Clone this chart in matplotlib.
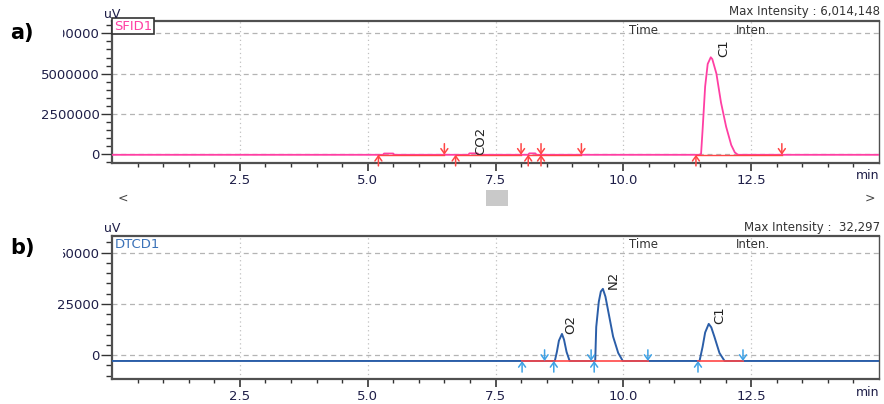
import matplotlib
matplotlib.use("Agg")
import matplotlib.pyplot as plt
from matplotlib.patches import Rectangle
from matplotlib.transforms import Bbox, TransformedBbox

# FID trace (panel a): retention time in min, signal in uV
time_a = [0.0, 5.30, 5.32, 5.50, 5.52, 6.97, 6.99, 7.15, 7.17, 8.14, 8.16, 8.28, 8.30,
          11.48, 11.52, 11.55, 11.60, 11.65, 11.71, 11.74, 11.82, 11.91, 12.01, 12.11,
          12.18, 12.24, 15.0]
signal_a = [-50000, -50000, 30000, 30000, -50000, -50000, 40000, 40000, -50000, -50000,
            40000, 40000, -50000, -50000, 0, 1500000, 4200000, 5600000, 6014148, 5900000,
            5000000, 3200000, 1700000, 560000, 100000, -50000, -50000]

# TCD trace (panel b)
time_b = [0.0, 8.66, 8.70, 8.74, 8.80, 8.84, 8.89, 8.95, 9.45, 9.47, 9.52, 9.56, 9.60,
          9.65, 9.70, 9.80, 9.90, 9.99, 11.49, 11.55, 11.60, 11.67, 11.72, 11.78, 11.88,
          11.98, 15.0]
signal_b = [-2900, -2900, 1500, 7000, 10300, 7500, 1500, -2900, -2900, 13700, 26000,
            31000, 32297, 28500, 22000, 9000, 1000, -2900, -2900, 4000, 11000, 15200,
            13500, 9000, 1000, -2900, -2900]

# integration markers (min) and baseline segments
a_down = [6.50, 8.00, 8.39, 9.18, 13.10]
a_up = [5.21, 6.72, 8.14, 8.39, 11.42]
a_base = [(5.21, 6.50), (6.72, 8.00), (8.14, 9.18), (11.42, 13.10)]
b_down = [8.46, 9.37, 10.48, 12.34]
b_up = [8.02, 8.64, 9.43, 11.46]
b_base = [(8.02, 10.48), (11.46, 12.34)]

# peak names: (name, time, signal)
peaks_a = [("CO2", 7.22, -50000), ("C1", 11.96, 6014148)]
peaks_b = [("O2", 8.98, 10300), ("N2", 9.80, 32297), ("C1", 11.88, 15200)]

x_ticks = [2.5, 5.0, 7.5, 10.0, 12.5]
x_labels = ["2.5", "5.0", "7.5", "10.0", "12.5"]
y_ticks_a = [0, 2500000, 5000000, 7500000]
y_ticks_b = [0, 25000, 50000]

PINK = "#ff3fa3"
RED = "#ff4545"
BLUE = "#2b5ea8"
LBLUE = "#3ea2e6"
TXT = "#1e1e48"

plt.rcParams["font.family"] = "DejaVu Sans"
fig = plt.figure(figsize=(8.84, 4.04), dpi=100)
W, H = 884, 404


def px_axes(x0, y0, x1, y1):
    return fig.add_axes([x0 / W, 1 - y1 / H, (x1 - x0) / W, (y1 - y0) / H])


def style(ax, ylim, yticks):
    ax.set_xlim(0, 15)
    ax.set_ylim(*ylim)
    ax.set_xticks(x_ticks)
    ax.set_xticklabels(x_labels)
    ax.set_xticks([i * 0.5 for i in range(1, 30)], minor=True)
    ax.set_yticks(yticks)
    ax.set_yticklabels([str(v) for v in yticks])
    step = yticks[1] / 5
    ax.set_yticks([k * step for k in range(int(ylim[0] // step) + 1, int(ylim[1] // step) + 1)],
                  minor=True)
    ax.tick_params(axis="x", which="major", length=6, width=1.2, color="#333", pad=2,
                   labelsize=9.5, labelcolor=TXT)
    ax.tick_params(axis="x", which="minor", length=3, width=1, color="#333")
    ax.tick_params(axis="y", which="major", length=8, width=1, color="#333", pad=1,
                   labelsize=9.5, labelcolor=TXT)
    ax.tick_params(axis="y", which="minor", length=4, width=1, color="#333")
    for s in ax.spines.values():
        s.set_color("#505050")
        s.set_linewidth(1.6)
    ax.spines["right"].set_linewidth(1.0)
    for y in yticks:
        ax.axhline(y, color="#b4b4b4", lw=0.9, ls=(0, (4, 3)), zorder=0)
    for x in x_ticks:
        ax.axvline(x, color="#c0c0c0", lw=0.9, ls=(0, (1, 2.5)), zorder=0)
    # the software clips the top y label at the panel edge
    top = ax.yaxis.get_major_ticks()[-1].label1
    top.set_clip_box(TransformedBbox(Bbox([[63 / W, 0], [1, 1]]), fig.transFigure))
    top.set_clip_on(True)


def arrows(ax, ts, base, up, color):
    for t in ts:
        ax.annotate("", xy=(t, base), xycoords="data",
                    xytext=(0, -8 if up else 8), textcoords="offset points",
                    arrowprops=dict(arrowstyle="->,head_length=0.35,head_width=0.25",
                                    color=color, lw=1.1, shrinkA=0, shrinkB=0),
                    zorder=5)


# ---- panel a: FID ----
ax1 = px_axes(112, 21, 879, 163)
style(ax1, (-560000, 8270000), y_ticks_a)
ax1.plot(time_a, signal_a, color=PINK, lw=1.3, zorder=3)
for t0, t1 in a_base:
    ax1.plot([t0, t1], [-50000, -50000], color=RED, lw=1.0, zorder=4)
arrows(ax1, a_down, -50000, False, RED)
arrows(ax1, a_up, -50000, True, RED)
for name, t, v in peaks_a:
    ax1.annotate(name, xy=(t, v), xytext=(0, 0), textcoords="offset points",
                 rotation=90, ha="center", va="bottom", fontsize=9.5, color="#222")
ax1.text(0.04, 7950000, "SFID1", color=PINK, fontsize=9.5, va="center", ha="left",
         bbox=dict(boxstyle="square,pad=0.12", fc="white", ec="#333", lw=1.2))

# ---- panel b: TCD ----
ax2 = px_axes(112, 236, 879, 379)
style(ax2, (-11700, 58100), y_ticks_b)
ax2.plot(time_b, signal_b, color=BLUE, lw=1.4, zorder=3)
for t0, t1 in b_base:
    ax2.plot([t0, t1], [-2900, -2900], color=RED, lw=1.4, zorder=4, alpha=0.85)
arrows(ax2, b_down, -2900, False, LBLUE)
arrows(ax2, b_up, -2900, True, LBLUE)
for name, t, v in peaks_b:
    ax2.annotate(name, xy=(t, v), xytext=(0, 0), textcoords="offset points",
                 rotation=90, ha="center", va="bottom", fontsize=9.5, color="#222")
ax2.text(0.06, 54000, "DTCD1", color="#3b72b8", fontsize=9.5, va="center", ha="left")

# ---- header / footer texts ----
for top_y, bot_y, label, maxi in [(21, 163, "a)", "6,014,148"), (236, 379, "b)", " 32,297")]:
    fig.text(10 / W, 1 - (top_y + 12) / H, label, fontsize=15, fontweight="bold",
             va="center", ha="left")
    fig.text(104 / W, 1 - (top_y - 7) / H, "uV", fontsize=9, color=TXT, va="center")
    fig.text(880 / W, 1 - (top_y - 9) / H, "Max Intensity : " + maxi, fontsize=8.5,
             color="#333", va="center", ha="right")
    fig.text(629 / W, 1 - (top_y + 9) / H, "Time", fontsize=8.5, color="#333", va="center")
    fig.text(736 / W, 1 - (top_y + 9) / H, "Inten.", fontsize=8.5, color="#333", va="center")
    fig.text(879 / W, 1 - (bot_y + 13) / H, "min", fontsize=9, color=TXT, va="center",
             ha="right")

# scroll bar under panel a
fig.text(123 / W, 1 - 198 / H, "<", fontsize=9, color="#444", va="center", ha="center")
fig.text(870 / W, 1 - 198 / H, ">", fontsize=9, color="#444", va="center", ha="center")
fig.add_artist(Rectangle((486 / W, 1 - 206 / H), 22 / W, 16 / H, transform=fig.transFigure,
                         fc="#c9c9c9", ec="none"))

fig.savefig("out.png", dpi=100)
